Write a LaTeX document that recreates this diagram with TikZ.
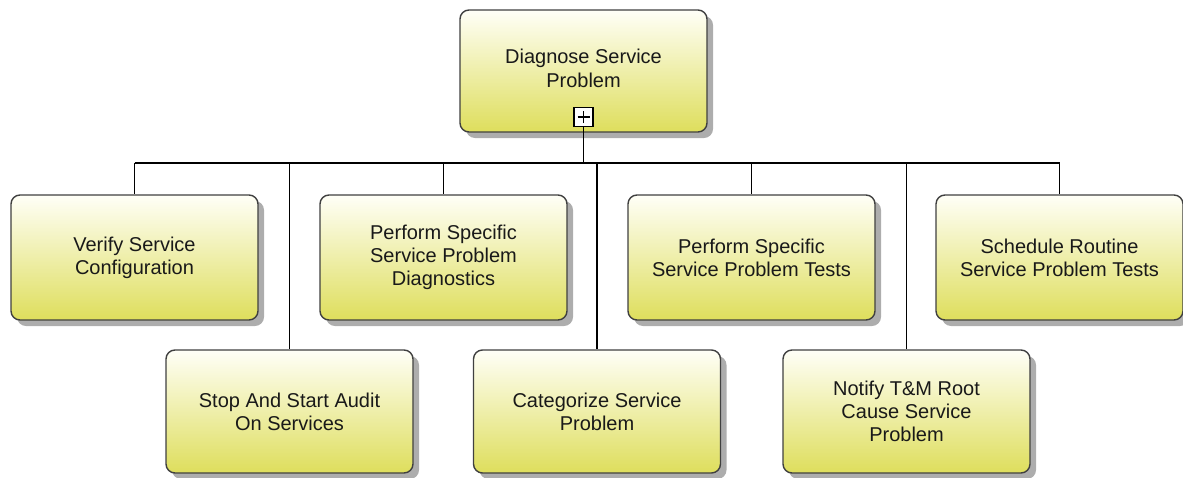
\documentclass[tikz,border=0pt]{standalone}
\usepackage{fontspec}
\setmainfont{Liberation Sans}
\usetikzlibrary{shadows}
\begin{document}
\begin{tikzpicture}[x=1pt,y=-1pt,
  task/.style={draw=black!75, line width=1.4pt, rounded corners=9pt,
    minimum width=247pt, minimum height=125pt, inner sep=0pt,
    top color=yellow!3!white, bottom color={rgb,255:red,222;green,222;blue,92},
    drop shadow={shadow xshift=6pt, shadow yshift=-6pt, fill=black!40, opacity=0.8},
    align=center, font=\fontsize{20}{23}\selectfont, text=black!90},
  link/.style={draw=black, line width=1.6pt},
  expander/.style={draw=black, line width=1.1pt, fill=white,
    minimum size=19pt, inner sep=0pt}]
\useasboundingbox (0,0) rectangle (1183,477);

% parent process
\node[task, minimum height=122pt] (top) at (583.5,71) {};
\node[font=\fontsize{20}{24}\selectfont, align=center, text=black!90] (toplabel) at (583.5,68)
  {Diagnose Service\\Problem};
\node[expander] (plus) at (583.5,117) {};
\draw[line width=1.3pt] ([xshift=-6pt]plus.center) -- ([xshift=6pt]plus.center);
\draw[line width=1.3pt] ([yshift=-6pt]plus.center) -- ([yshift=6pt]plus.center);

% sub-processes, upper row
\node[task] (c1) at (134.5,257.5) {Verify Service\\Configuration};
\node[task] (c3) at (443.5,257.5) {Perform Specific\\Service Problem\\Diagnostics};
\node[task] (c5) at (751.5,257.5) {Perform Specific\\Service Problem Tests};
\node[task] (c7) at (1059.5,257.5) {Schedule Routine\\Service Problem Tests};

% sub-processes, lower row
\node[task, minimum height=123pt] (c2) at (289.5,411.5) {Stop And Start Audit\\On Services};
\node[task, minimum height=123pt] (c4) at (597,411.5) {Categorize Service\\Problem};
\node[task, minimum height=123pt] (c6) at (906.5,411.5) {Notify T\&M Root\\Cause Service\\Problem};

% tree connectors
\coordinate (busL) at (134.5,163);
\coordinate (busR) at (1059.5,163);
\draw[link] (busL) -- (busR);
\draw[link] (plus.south) -- (plus.south |- busL);
\foreach \c in {c1,c2,c3,c4,c5,c6,c7}
  \draw[link] (\c.north |- busL) -- (\c.north);
\end{tikzpicture}
\end{document}
